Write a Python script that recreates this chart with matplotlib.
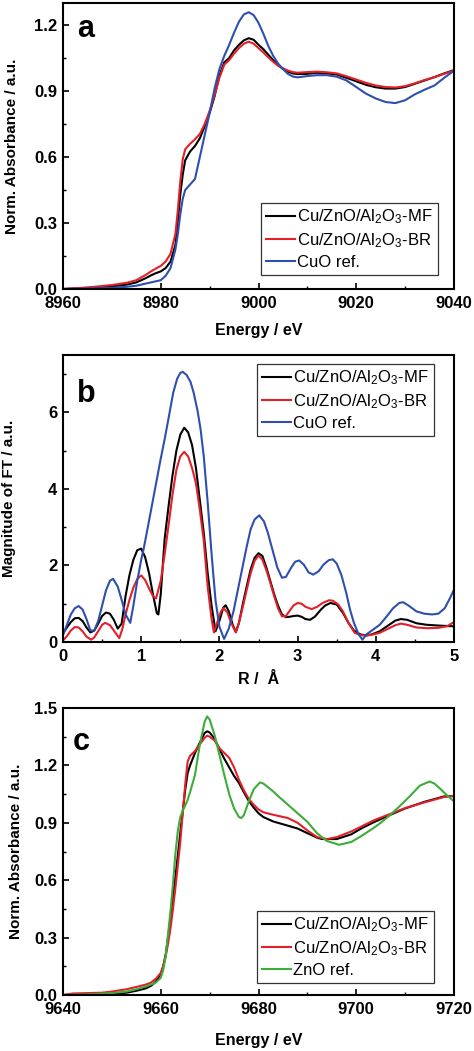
import matplotlib
matplotlib.use("Agg")
import matplotlib.pyplot as plt
from matplotlib.ticker import MultipleLocator, FormatStrFormatter

plt.rcParams['font.family'] = ['Liberation Sans', 'DejaVu Sans']
plt.rcParams['mathtext.fontset'] = 'custom'
plt.rcParams['mathtext.rm'] = 'Liberation Sans'
plt.rcParams['mathtext.default'] = 'regular'

# ---------------- Panel a: Cu K-edge XANES ----------------
energy_a = [8960, 8965, 8970, 8973, 8975, 8977, 8978, 8979, 8980, 8981, 8982, 8983,
            8983.5, 8984, 8984.5, 8985, 8986, 8987, 8988, 8989, 8990, 8991, 8992,
            8993, 8994, 8995, 8996, 8997, 8998, 8999, 9000, 9001, 9002, 9003, 9004,
            9005, 9006, 9007, 9008, 9010, 9012, 9014, 9016, 9018, 9020, 9022, 9024,
            9026, 9028, 9030, 9032, 9034, 9036, 9038, 9040]
mf_a = [0.000, 0.005, 0.012, 0.020, 0.030, 0.050, 0.062, 0.072, 0.080, 0.095, 0.125, 0.200,
        0.310, 0.430, 0.520, 0.585, 0.625, 0.650, 0.685, 0.740, 0.800, 0.875, 0.970,
        1.030, 1.050, 1.085, 1.110, 1.130, 1.140, 1.133, 1.110, 1.090, 1.065, 1.040, 1.018,
        1.000, 0.988, 0.980, 0.977, 0.978, 0.983, 0.980, 0.975, 0.960, 0.944, 0.928, 0.917,
        0.911, 0.911, 0.918, 0.933, 0.948, 0.963, 0.980, 0.995]
br_a = [0.000, 0.007, 0.018, 0.028, 0.040, 0.065, 0.080, 0.093, 0.105, 0.125, 0.160, 0.250,
        0.360, 0.490, 0.590, 0.635, 0.660, 0.680, 0.705, 0.750, 0.810, 0.880, 0.960,
        1.020, 1.040, 1.070, 1.095, 1.115, 1.124, 1.115, 1.095, 1.075, 1.053, 1.033, 1.015,
        1.003, 0.993, 0.986, 0.983, 0.986, 0.988, 0.985, 0.980, 0.967, 0.952, 0.937, 0.925,
        0.918, 0.916, 0.922, 0.935, 0.950, 0.963, 0.978, 0.993]
cuo_a = [0.000, 0.002, 0.005, 0.010, 0.015, 0.025, 0.030, 0.035, 0.040, 0.060, 0.095, 0.180,
         0.250, 0.340, 0.410, 0.450, 0.475, 0.500, 0.600, 0.700, 0.800, 0.910, 1.000,
         1.060, 1.110, 1.165, 1.215, 1.248, 1.258, 1.245, 1.210, 1.160, 1.105, 1.060, 1.025,
         1.000, 0.978, 0.966, 0.962, 0.968, 0.972, 0.972, 0.965, 0.948, 0.918, 0.888, 0.866,
         0.850, 0.845, 0.858, 0.885, 0.906, 0.925, 0.960, 0.992]

# ---------------- Panel b: Fourier transforms ----------------
r_mf = [0.00, 0.05, 0.10, 0.15, 0.20, 0.25, 0.30, 0.35, 0.40, 0.45, 0.50, 0.55, 0.60, 0.65,
        0.70, 0.75, 0.80, 0.85, 0.90, 0.95, 1.00, 1.05, 1.10, 1.15, 1.20, 1.22, 1.25, 1.30,
        1.35, 1.40, 1.45, 1.50, 1.55, 1.60, 1.65, 1.70, 1.75, 1.80, 1.85, 1.90, 1.95, 2.00,
        2.05, 2.08, 2.12, 2.17, 2.21, 2.25, 2.30, 2.35, 2.40, 2.45, 2.50, 2.55, 2.60, 2.65,
        2.70, 2.75, 2.80, 2.85, 2.90, 2.95, 3.00, 3.05, 3.10, 3.16, 3.22, 3.30, 3.35, 3.42,
        3.50, 3.58, 3.65, 3.72, 3.80, 3.88, 3.95, 4.05, 4.15, 4.25, 4.32, 4.40, 4.52, 4.65,
        4.80, 4.90, 5.00]
ft_mf = [0.22, 0.38, 0.52, 0.62, 0.63, 0.55, 0.38, 0.25, 0.30, 0.48, 0.68, 0.77, 0.74, 0.58,
         0.35, 0.48, 1.20, 1.75, 2.15, 2.40, 2.44, 2.22, 1.80, 1.25, 0.75, 0.72, 1.25, 2.70,
         3.55, 4.35, 5.00, 5.42, 5.60, 5.48, 5.15, 4.55, 3.70, 2.85, 1.80, 0.95, 0.28, 0.55,
         0.90, 0.96, 0.80, 0.45, 0.26, 0.50, 1.00, 1.46, 1.90, 2.20, 2.32, 2.25, 1.95, 1.60,
         1.25, 0.95, 0.72, 0.65, 0.66, 0.68, 0.69, 0.66, 0.60, 0.58, 0.66, 0.85, 0.95, 1.02,
         0.98, 0.76, 0.50, 0.30, 0.20, 0.17, 0.20, 0.28, 0.42, 0.56, 0.60, 0.58, 0.49, 0.45,
         0.43, 0.42, 0.41]

r_br = [0.00, 0.05, 0.10, 0.15, 0.20, 0.25, 0.30, 0.36, 0.40, 0.45, 0.50, 0.54, 0.60, 0.65,
        0.72, 0.76, 0.80, 0.85, 0.90, 0.95, 1.00, 1.05, 1.10, 1.15, 1.19, 1.25, 1.30, 1.35,
        1.40, 1.45, 1.50, 1.55, 1.60, 1.65, 1.70, 1.75, 1.80, 1.85, 1.90, 1.93, 1.97, 2.02,
        2.05, 2.10, 2.15, 2.21, 2.25, 2.30, 2.35, 2.40, 2.45, 2.50, 2.55, 2.60, 2.65, 2.70,
        2.75, 2.80, 2.85, 2.90, 2.95, 3.00, 3.05, 3.10, 3.18, 3.25, 3.32, 3.40, 3.45, 3.52,
        3.58, 3.65, 3.73, 3.80, 3.88, 3.95, 4.05, 4.15, 4.25, 4.32, 4.40, 4.52, 4.65, 4.80,
        4.91, 5.00]
ft_br = [0.04, 0.15, 0.30, 0.39, 0.38, 0.28, 0.14, 0.06, 0.12, 0.28, 0.45, 0.50, 0.44, 0.30,
         0.10, 0.35, 0.72, 1.10, 1.42, 1.65, 1.74, 1.62, 1.40, 1.20, 1.14, 1.60, 2.30, 3.05,
         3.85, 4.50, 4.85, 4.97, 4.85, 4.55, 4.15, 3.45, 2.65, 1.45, 0.60, 0.25, 0.50, 0.80,
         0.88, 0.78, 0.50, 0.25, 0.50, 0.92, 1.37, 1.80, 2.12, 2.26, 2.15, 1.88, 1.55, 1.20,
         0.88, 0.67, 0.68, 0.82, 0.96, 1.02, 1.00, 0.92, 0.86, 0.92, 1.02, 1.09, 1.08, 0.98,
         0.80, 0.50, 0.24, 0.18, 0.17, 0.19, 0.24, 0.34, 0.44, 0.48, 0.45, 0.38, 0.36, 0.37,
         0.41, 0.52]

r_cuo = [0.00, 0.05, 0.10, 0.15, 0.20, 0.25, 0.30, 0.35, 0.40, 0.45, 0.50, 0.55, 0.60, 0.64,
         0.70, 0.75, 0.80, 0.86, 0.90, 0.95, 1.00, 1.03, 1.08, 1.14, 1.20, 1.24, 1.30, 1.35,
         1.41, 1.46, 1.50, 1.53, 1.58, 1.63, 1.67, 1.72, 1.76, 1.80, 1.85, 1.90, 1.95, 2.00,
         2.06, 2.12, 2.18, 2.25, 2.30, 2.35, 2.40, 2.45, 2.51, 2.57, 2.62, 2.68, 2.74, 2.80,
         2.85, 2.92, 2.97, 3.02, 3.08, 3.14, 3.20, 3.27, 3.33, 3.40, 3.45, 3.50, 3.56, 3.62,
         3.67, 3.72, 3.78, 3.83, 3.88, 3.97, 4.05, 4.14, 4.22, 4.30, 4.35, 4.42, 4.52, 4.62,
         4.72, 4.80, 4.88, 4.95, 5.00]
ft_cuo = [0.18, 0.45, 0.72, 0.88, 0.94, 0.85, 0.60, 0.30, 0.30, 0.55, 0.95, 1.35, 1.60, 1.65,
          1.45, 1.10, 0.72, 0.50, 0.95, 1.60, 2.15, 2.42, 2.95, 3.60, 4.25, 4.69, 5.30, 5.85,
          6.52, 6.88, 7.03, 7.06, 6.98, 6.80, 6.52, 6.05, 5.55, 4.85, 3.65, 2.30, 1.10, 0.40,
          0.08, 0.35, 0.80, 1.50, 2.00, 2.50, 2.95, 3.20, 3.31, 3.15, 2.85, 2.40, 1.95, 1.68,
          1.70, 1.95, 2.10, 2.13, 2.02, 1.82, 1.76, 1.85, 2.02, 2.14, 2.16, 2.05, 1.75, 1.30,
          0.85, 0.50, 0.20, 0.06, 0.20, 0.33, 0.45, 0.67, 0.88, 1.02, 1.04, 0.95, 0.80, 0.74,
          0.72, 0.74, 0.88, 1.15, 1.37]

# ---------------- Panel c: Zn K-edge XANES ----------------
energy_c_mf = [9640, 9645, 9650, 9653, 9655, 9657, 9658, 9659, 9660, 9660.5, 9661, 9661.5,
               9662, 9662.5, 9663, 9663.5, 9664, 9664.5, 9665, 9665.5, 9666, 9667, 9668,
               9669, 9669.5, 9670, 9671, 9672, 9673, 9674, 9675, 9676, 9677, 9678, 9679,
               9680, 9681, 9683, 9686, 9688, 9690, 9692, 9693, 9696, 9699, 9701, 9703.5,
               9707, 9710, 9714, 9718, 9720]
mf_c = [0.000, 0.002, 0.006, 0.012, 0.022, 0.035, 0.048, 0.070, 0.110, 0.150, 0.210, 0.300,
        0.400, 0.510, 0.620, 0.730, 0.850, 0.960, 1.070, 1.160, 1.200, 1.265, 1.320,
        1.370, 1.378, 1.372, 1.340, 1.285, 1.235, 1.190, 1.145, 1.108, 1.060, 1.015, 0.980,
        0.950, 0.930, 0.907, 0.885, 0.870, 0.846, 0.822, 0.815, 0.815, 0.840, 0.870, 0.902,
        0.942, 0.975, 1.010, 1.038, 1.040]

energy_c_br = [9640, 9642, 9645, 9648, 9650, 9653, 9655, 9657, 9658, 9659, 9660, 9660.5,
               9661, 9661.5, 9662, 9662.5, 9663, 9663.5, 9664, 9664.5, 9665, 9665.5, 9666,
               9667, 9668, 9669, 9669.5, 9670, 9671, 9672, 9673, 9674, 9675, 9676, 9677,
               9678, 9679, 9680, 9681, 9683, 9686, 9688, 9690, 9692, 9694, 9696, 9699, 9701,
               9703.5, 9707, 9710, 9714, 9718, 9720]
br_c = [0.000, 0.008, 0.010, 0.012, 0.018, 0.030, 0.042, 0.055, 0.065, 0.085, 0.115, 0.150,
        0.200, 0.270, 0.350, 0.450, 0.560, 0.680, 0.800, 0.950, 1.100, 1.220, 1.250,
        1.275, 1.310, 1.345, 1.355, 1.350, 1.330, 1.290, 1.265, 1.240, 1.190, 1.125, 1.070,
        1.025, 0.995, 0.970, 0.955, 0.942, 0.925, 0.900, 0.860, 0.825, 0.815, 0.825, 0.855,
        0.880, 0.912, 0.947, 0.977, 1.007, 1.035, 1.040]

energy_c_zno = [9640, 9645, 9650, 9653, 9655, 9657, 9658, 9659, 9660, 9660.5, 9661, 9661.5,
                9662, 9662.5, 9663, 9663.5, 9664, 9664.5, 9665, 9665.5, 9666, 9667, 9668,
                9669, 9669.5, 9670, 9671, 9672, 9673, 9674, 9675, 9676, 9676.5, 9677, 9678,
                9679, 9680.3, 9681, 9682, 9683, 9684, 9686, 9688, 9690, 9692, 9694, 9696.5,
                9699, 9701, 9703.5, 9705, 9707, 9709, 9711, 9713, 9715, 9716, 9717, 9718.8,
                9720]
zno_c = [0.000, 0.003, 0.010, 0.018, 0.030, 0.045, 0.055, 0.065, 0.090, 0.130, 0.200, 0.320,
         0.440, 0.580, 0.740, 0.860, 0.930, 0.965, 0.990, 1.020, 1.060, 1.150, 1.310,
         1.430, 1.456, 1.440, 1.360, 1.255, 1.150, 1.050, 0.975, 0.930, 0.925, 0.940, 1.010,
         1.075, 1.111, 1.105, 1.085, 1.064, 1.040, 0.995, 0.950, 0.905, 0.845, 0.805, 0.785,
         0.800, 0.830, 0.872, 0.900, 0.942, 0.990, 1.040, 1.094, 1.116, 1.105, 1.082, 1.038,
         1.012]

labels_ab = [r'Cu/ZnO/Al$_2$O$_3$-MF', r'Cu/ZnO/Al$_2$O$_3$-BR', 'CuO ref.']
labels_c = [r'Cu/ZnO/Al$_2$O$_3$-MF', r'Cu/ZnO/Al$_2$O$_3$-BR', 'ZnO ref.']

BLACK = '#000000'
RED = '#e3202a'
BLUE = '#2f4fb0'
GREEN = '#3cad38'
LW = 1.5

W, H = 474, 1051
fig = plt.figure(figsize=(W / 100, H / 100), dpi=100)


def add_axes(left, top, right, bottom):
    return fig.add_axes([left / W, 1 - bottom / H, (right - left) / W, (bottom - top) / H])


def style(ax):
    for s in ax.spines.values():
        s.set_linewidth(1.5)
    ax.tick_params(which='both', direction='in', top=False, right=False)
    ax.tick_params(which='major', length=4, width=1.2, labelsize=12)
    ax.tick_params(axis='x', which='major', pad=5)
    ax.tick_params(axis='y', which='major', pad=4)
    ax.tick_params(which='minor', length=2.5, width=1.0)
    for lab in ax.get_xticklabels() + ax.get_yticklabels():
        lab.set_fontweight('bold')


def legend(ax, anchor):
    lg = ax.legend(loc='lower right', bbox_to_anchor=anchor, fontsize=12, frameon=True,
                   fancybox=False, edgecolor='#333333', framealpha=1, handlelength=1.75,
                   handletextpad=0.15, labelspacing=0.3, borderpad=0.3, borderaxespad=0)
    lg.get_frame().set_linewidth(0.9)


# panel a
ax1 = add_axes(63, 3, 454, 289)
ax1.plot(energy_a, mf_a, color=BLACK, lw=LW, label=labels_ab[0])
ax1.plot(energy_a, br_a, color=RED, lw=LW, label=labels_ab[1])
ax1.plot(energy_a, cuo_a, color=BLUE, lw=LW, label=labels_ab[2])
ax1.set_xlim(8960, 9040)
ax1.set_ylim(0, 1.3)
ax1.xaxis.set_major_locator(MultipleLocator(20))
ax1.xaxis.set_minor_locator(MultipleLocator(10))
ax1.yaxis.set_major_locator(MultipleLocator(0.3))
ax1.yaxis.set_minor_locator(MultipleLocator(0.15))
ax1.yaxis.set_major_formatter(FormatStrFormatter('%.1f'))
style(ax1)
ax1.set_xlabel('Energy / eV', fontsize=11.5, fontweight='bold')
ax1.set_ylabel('Norm. Absorbance / a.u.', fontsize=11, fontweight='bold')
ax1.xaxis.label.set_va('center')
ax1.yaxis.label.set_va('center')
ax1.xaxis.set_label_coords(0.5, (289 - 330) / 286)
ax1.yaxis.set_label_coords((12 - 63) / 391, 0.5)
ax1.text(0.036, 0.88, 'a', transform=ax1.transAxes, fontsize=22, fontweight='bold')
legend(ax1, ((438 - 63) / 391, (289 - 275) / 286))

# panel b
ax2 = add_axes(63, 355, 454, 642)
ax2.plot(r_mf, ft_mf, color=BLACK, lw=LW, label=labels_ab[0])
ax2.plot(r_br, ft_br, color=RED, lw=LW, label=labels_ab[1])
ax2.plot(r_cuo, ft_cuo, color=BLUE, lw=LW, label=labels_ab[2])
ax2.set_xlim(0, 5)
ax2.set_ylim(0, 7.5)
ax2.xaxis.set_major_locator(MultipleLocator(1))
ax2.xaxis.set_minor_locator(MultipleLocator(0.5))
ax2.yaxis.set_major_locator(MultipleLocator(2))
ax2.yaxis.set_minor_locator(MultipleLocator(1))
style(ax2)
ax2.set_xlabel('R /  Å', fontsize=11.5, fontweight='bold')
ax2.set_ylabel('Magnitude of FT / a.u.', fontsize=11, fontweight='bold')
ax2.xaxis.label.set_va('center')
ax2.yaxis.label.set_va('center')
ax2.xaxis.set_label_coords(0.5, (642 - 680) / 287)
ax2.yaxis.set_label_coords((9 - 63) / 391, 0.5)
ax2.text(0.036, 0.837, 'b', transform=ax2.transAxes, fontsize=22, fontweight='bold')
legend(ax2, ((434 - 63) / 391, (642 - 436) / 287))

# panel c
ax3 = add_axes(63, 708, 454, 995)
ax3.plot(energy_c_mf, mf_c, color=BLACK, lw=LW, label=labels_c[0])
ax3.plot(energy_c_br, br_c, color=RED, lw=LW, label=labels_c[1])
ax3.plot(energy_c_zno, zno_c, color=GREEN, lw=LW, label=labels_c[2])
ax3.set_xlim(9640, 9720)
ax3.set_ylim(0, 1.5)
ax3.xaxis.set_major_locator(MultipleLocator(20))
ax3.xaxis.set_minor_locator(MultipleLocator(10))
ax3.yaxis.set_major_locator(MultipleLocator(0.3))
ax3.yaxis.set_minor_locator(MultipleLocator(0.15))
ax3.yaxis.set_major_formatter(FormatStrFormatter('%.1f'))
style(ax3)
ax3.set_xlabel('Energy / eV', fontsize=11.5, fontweight='bold')
ax3.set_ylabel('Norm. Absorbance / a.u.', fontsize=11, fontweight='bold')
ax3.xaxis.label.set_va('center')
ax3.yaxis.label.set_va('center')
ax3.xaxis.set_label_coords(0.5, (995 - 1040) / 287)
ax3.yaxis.set_label_coords((16 - 63) / 391, 0.5)
ax3.text(0.026, 0.855, 'c', transform=ax3.transAxes, fontsize=22, fontweight='bold')
legend(ax3, ((434 - 63) / 391, (995 - 983) / 287))

fig.savefig('out.png', dpi=100)
